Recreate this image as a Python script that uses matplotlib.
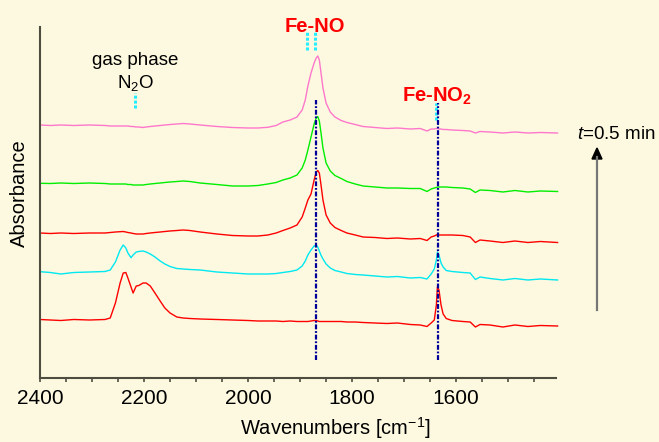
import matplotlib
matplotlib.use("Agg")
import matplotlib.pyplot as plt
from matplotlib.lines import Line2D
from matplotlib.patches import Polygon
from matplotlib.ticker import MultipleLocator

plt.rcParams['font.family'] = 'Liberation Sans'
plt.rcParams['mathtext.fontset'] = 'custom'
plt.rcParams['mathtext.rm'] = 'Liberation Sans'
plt.rcParams['mathtext.it'] = 'Liberation Sans:italic'
plt.rcParams['mathtext.bf'] = 'Liberation Sans:bold'
plt.rcParams['mathtext.default'] = 'regular'

# wavenumber grid (cm-1), shared by all spectra
wavenumber = [2400, 2380, 2360, 2335, 2305, 2275, 2265, 2255, 2246, 2240,
              2235, 2231, 2225, 2221, 2215, 2210, 2202, 2196, 2188, 2179,
              2169, 2160, 2150, 2137, 2125, 2112, 2092, 2060, 2030, 2000,
              1981, 1962, 1946, 1933, 1919, 1906, 1896, 1890, 1885, 1879,
              1873, 1869, 1866, 1863, 1860, 1856, 1850, 1842, 1833, 1821,
              1810, 1794, 1779, 1756, 1733, 1713, 1688, 1669, 1656, 1648,
              1642, 1638, 1636, 1633, 1629, 1625, 1619, 1608, 1587, 1573,
              1563, 1554, 1535, 1510, 1487, 1462, 1438, 1405]

# stacked absorbance (a.u.), latest spectrum on top
spec_pink = [2.530, 2.525, 2.530, 2.525, 2.530, 2.525, 2.520, 2.520, 2.520, 2.520,
             2.520, 2.520, 2.515, 2.515, 2.510, 2.510, 2.505, 2.510, 2.515, 2.520,
             2.525, 2.530, 2.535, 2.540, 2.545, 2.540, 2.530, 2.515, 2.505, 2.500,
             2.500, 2.507, 2.525, 2.560, 2.580, 2.610, 2.680, 2.780, 2.920, 3.050,
             3.150, 3.200, 3.220, 3.180, 3.060, 2.900, 2.750, 2.660, 2.610, 2.575,
             2.555, 2.535, 2.515, 2.505, 2.495, 2.500, 2.490, 2.495, 2.470, 2.490,
             2.490, 2.495, 2.495, 2.490, 2.490, 2.485, 2.485, 2.480, 2.475, 2.470,
             2.450, 2.465, 2.460, 2.450, 2.460, 2.450, 2.455, 2.450]
spec_green = [1.947, 1.945, 1.950, 1.945, 1.950, 1.945, 1.940, 1.940, 1.940, 1.940,
              1.940, 1.935, 1.935, 1.930, 1.930, 1.930, 1.930, 1.935, 1.940, 1.945,
              1.950, 1.955, 1.960, 1.965, 1.970, 1.965, 1.950, 1.935, 1.920, 1.920,
              1.925, 1.940, 1.955, 1.980, 2.000, 2.030, 2.100, 2.180, 2.280, 2.410,
              2.540, 2.600, 2.615, 2.570, 2.460, 2.300, 2.150, 2.070, 2.025, 1.995,
              1.965, 1.940, 1.920, 1.910, 1.900, 1.900, 1.895, 1.895, 1.865, 1.890,
              1.900, 1.905, 1.910, 1.910, 1.910, 1.910, 1.910, 1.905, 1.900, 1.890,
              1.855, 1.880, 1.875, 1.860, 1.875, 1.860, 1.870, 1.865]
spec_red2 = [1.450, 1.445, 1.450, 1.445, 1.450, 1.450, 1.455, 1.460, 1.463, 1.465,
             1.460, 1.455, 1.450, 1.445, 1.440, 1.440, 1.440, 1.445, 1.450, 1.455,
             1.460, 1.465, 1.470, 1.475, 1.480, 1.475, 1.460, 1.440, 1.425, 1.420,
             1.420, 1.430, 1.450, 1.475, 1.500, 1.530, 1.610, 1.700, 1.780, 1.840,
             1.980, 2.060, 2.075, 2.050, 1.940, 1.780, 1.630, 1.550, 1.505, 1.475,
             1.450, 1.430, 1.410, 1.405, 1.395, 1.400, 1.390, 1.395, 1.375, 1.410,
             1.420, 1.430, 1.435, 1.430, 1.430, 1.430, 1.430, 1.430, 1.425, 1.410,
             1.355, 1.380, 1.370, 1.355, 1.370, 1.355, 1.365, 1.355]
spec_cyan = [1.063, 1.055, 1.040, 1.055, 1.060, 1.065, 1.080, 1.160, 1.280, 1.330,
             1.300, 1.250, 1.203, 1.230, 1.260, 1.265, 1.270, 1.260, 1.240, 1.210,
             1.170, 1.140, 1.115, 1.095, 1.090, 1.085, 1.080, 1.060, 1.050, 1.040,
             1.040, 1.040, 1.045, 1.055, 1.065, 1.080, 1.120, 1.170, 1.230, 1.280,
             1.320, 1.330, 1.310, 1.270, 1.230, 1.190, 1.140, 1.100, 1.075, 1.060,
             1.045, 1.035, 1.030, 1.020, 1.010, 1.015, 1.000, 1.005, 0.990, 1.040,
             1.090, 1.180, 1.260, 1.230, 1.150, 1.110, 1.075, 1.065, 1.055, 1.050,
             0.985, 1.010, 0.995, 0.980, 0.995, 0.980, 0.990, 0.980]
spec_red1 = [0.585, 0.580, 0.575, 0.585, 0.580, 0.585, 0.600, 0.750, 0.950, 1.050,
             1.055, 1.000, 0.910, 0.850, 0.920, 0.925, 0.950, 0.950, 0.920, 0.850,
             0.770, 0.700, 0.650, 0.610, 0.600, 0.595, 0.590, 0.585, 0.580, 0.575,
             0.570, 0.570, 0.570, 0.565, 0.570, 0.565, 0.565, 0.565, 0.565, 0.570,
             0.575, 0.575, 0.570, 0.565, 0.565, 0.565, 0.565, 0.565, 0.565, 0.565,
             0.560, 0.560, 0.555, 0.550, 0.545, 0.550, 0.535, 0.530, 0.515, 0.550,
             0.580, 0.730, 0.910, 0.880, 0.730, 0.640, 0.595, 0.575, 0.565, 0.560,
             0.510, 0.535, 0.530, 0.510, 0.530, 0.515, 0.525, 0.520]

spectra = [spec_red1, spec_cyan, spec_red2, spec_green, spec_pink]
colors = ['#ff0000', '#00e8f0', '#ff0000', '#00ee00', '#ff77cc']

# band positions
fe_no = 1869
fe_no2 = 1635
n2o_gas = 2217

bg = '#fdf9e0'
spine_col = '#4d4d40'
navy = '#000099'
cyan = '#22eeff'
dashdot = (2.2, 0.8, 0.8, 0.8)

fig = plt.figure(figsize=(6.59, 4.42), dpi=100, facecolor=bg)
ax = fig.add_axes([40 / 659, 64 / 442, 516 / 659, 351 / 442])
ax.set_facecolor(bg)

for spec, c in zip(spectra, colors):
    ax.plot(wavenumber, spec, color=c, lw=1.0, clip_on=False)

# assignment lines
ax.plot([fe_no, fe_no], [0.18, 2.78], color=navy, lw=1.6, dashes=dashdot)
ax.plot([fe_no2 + 3, fe_no2 + 3], [2.58, 2.75], color=cyan, lw=2.2, dashes=(1, 0.6))
ax.plot([fe_no2, fe_no2], [0.18, 2.75], color=navy, lw=1.6, dashes=dashdot)

# gas phase / Fe-NO markers
ax.plot([n2o_gas, n2o_gas], [2.70, 2.85], color=cyan, lw=2.2, dashes=(1, 0.6))
ax.plot([1886, 1886], [3.28, 3.46], color=cyan, lw=2.2, dashes=(1, 0.6))
ax.plot([fe_no + 2, fe_no + 2], [3.28, 3.46], color=cyan, lw=2.2, dashes=(1, 0.6))

ax.text(fe_no + 3, 3.463, 'Fe-NO', color='#ff0000', fontsize=14.5,
        fontweight='bold', ha='center', va='baseline')
ax.text(fe_no2 + 2, 2.763, 'Fe-NO$_2$', color='#ff0000', fontsize=14.5,
        fontweight='bold', ha='center', va='baseline')
ax.text(n2o_gas, 3.13, 'gas phase', fontsize=13.5, ha='center', va='baseline')
ax.text(n2o_gas, 2.897, 'N$_2$O', fontsize=13.5, ha='center', va='baseline')

ax.set_xlim(2400, 1408)
ax.set_ylim(0, 3.51)
ax.xaxis.set_major_locator(MultipleLocator(200))
ax.xaxis.set_minor_locator(MultipleLocator(50))
ax.tick_params(axis='x', which='both', direction='out', length=3, width=1.2,
               color=spine_col, labelsize=15, pad=5)
ax.set_yticks([])
for side in ['top', 'right']:
    ax.spines[side].set_visible(False)
for side in ['left', 'bottom']:
    ax.spines[side].set_color(spine_col)
    ax.spines[side].set_linewidth(1.5)

fig.text(335 / 659, 1 - 428 / 442, 'Wavenumbers [cm$^{-1}$]', fontsize=14.5,
         ha='center', va='center')
fig.text(19 / 659, 1 - 193 / 442, 'Absorbance', fontsize=14.5, rotation=90,
         ha='center', va='center')

# time arrow
fig.text(577 / 659, 1 - 139 / 442, r'$\mathit{t}$=0.5 min', fontsize=13.5,
         ha='left', va='baseline')
ax_x = 597 / 659
fig.add_artist(Line2D([ax_x, ax_x], [1 - 310 / 442, 1 - 157 / 442],
                      color='#777777', lw=1.6))
fig.add_artist(Polygon([[ax_x, 1 - 148 / 442], [ax_x - 5 / 659, 1 - 159 / 442],
                        [ax_x + 5 / 659, 1 - 159 / 442]], closed=True,
                       color='black'))

fig.savefig('out.png', dpi=100, facecolor=bg)
